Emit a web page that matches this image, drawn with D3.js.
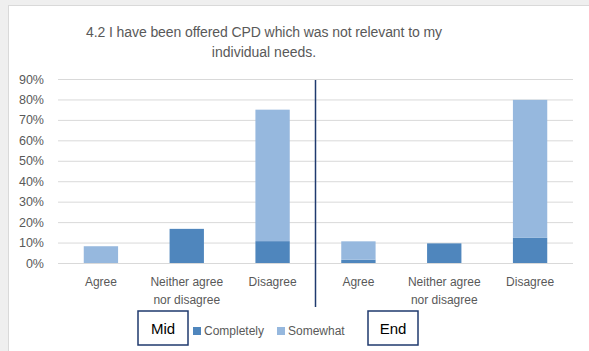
<!DOCTYPE html>
<html>
<head>
<meta charset="utf-8">
<script src="https://cdn.jsdelivr.net/npm/d3@7"></script>
<style>
  html, body { margin: 0; padding: 0; background: #efefef; }
  svg { display: block; font-family: "Liberation Sans", Arial, sans-serif; }
</style>
</head>
<body>
<svg id="chart" width="589" height="351"></svg>
<script>
// Survey responses, mid-point and end-point, split into two shades of agreement
const categories = ["Agree", "Neither agree\nnor disagree", "Disagree", "Agree", "Neither agree\nnor disagree", "Disagree"];
const completely = [0, 16.7, 10.7, 1.6, 9.6, 12.3];
const somewhat   = [8.2, 0, 64.3, 9.0, 0, 67.5];
const seriesNames = ["Completely", "Somewhat"];
const seriesColors = ["#4f86bd", "#96b8de"];
const yTicks = [0, 10, 20, 30, 40, 50, 60, 70, 80, 90];
const groupLabels = ["Mid", "End"];
const titleLines = ["4.2 I have been offered CPD which was not relevant to my", "individual needs."];

const svg = d3.select("#chart");

// chart frame
svg.append("rect")
  .attr("x", 8.5).attr("y", 5.5).attr("width", 600).attr("height", 360)
  .attr("fill", "#ffffff").attr("stroke", "#d9d9d9");

const plot = { left: 58, right: 573, top: 79, bottom: 263 };

const x = d3.scaleBand()
  .domain(d3.range(categories.length))
  .range([plot.left, plot.right])
  .paddingInner(0.6).paddingOuter(0.3);

const y = d3.scaleLinear().domain([0, 90]).range([plot.bottom, plot.top]);

// title
svg.append("g").selectAll("text").data(titleLines).join("text")
  .attr("x", 264).attr("y", (d, i) => 36.5 + i * 20)
  .attr("text-anchor", "middle")
  .attr("font-size", 14).attr("fill", "#595959")
  .attr("textLength", d => d.length > 30 ? 356 : null)
  .text(d => d);

// gridlines and y tick labels
const yAxis = d3.axisLeft(y).tickValues(yTicks).tickSize(-(plot.right - plot.left))
  .tickFormat(d => d + "%");
const gy = svg.append("g").attr("transform", `translate(${plot.left},0)`).call(yAxis);
gy.select(".domain").remove();
gy.selectAll(".tick line").attr("stroke", "#d9d9d9").attr("stroke-width", 1);
gy.selectAll(".tick text").attr("x", -14).attr("fill", "#595959")
  .attr("font-size", 12.5).attr("font-family", "Liberation Sans, Arial, sans-serif");

// stacked bars
const rows = categories.map((c, i) => ({ i, Completely: completely[i], Somewhat: somewhat[i] }));
const stacked = d3.stack().keys(seriesNames)(rows);
svg.append("g").selectAll("g").data(stacked).join("g")
  .attr("fill", (d, i) => seriesColors[i])
  .selectAll("rect").data(d => d).join("rect")
  .attr("x", d => x(d.data.i))
  .attr("width", x.bandwidth())
  .attr("y", d => y(d[1]))
  .attr("height", d => y(d[0]) - y(d[1]));

// x category labels
const gx = svg.append("g");
categories.forEach((c, i) => {
  const t = gx.append("text")
    .attr("x", x(i) + x.bandwidth() / 2).attr("y", 286)
    .attr("text-anchor", "middle").attr("font-size", 12).attr("fill", "#595959");
  c.split("\n").forEach((line, k) => {
    t.append("tspan").attr("x", x(i) + x.bandwidth() / 2).attr("dy", k === 0 ? 0 : 17.5).text(line);
  });
});

// divider between mid and end groups
const divX = x(3) - x.step() * x.paddingInner() / 2;
svg.append("line")
  .attr("x1", divX).attr("x2", divX).attr("y1", 80).attr("y2", 307)
  .attr("stroke", "#1f3a6e").attr("stroke-width", 1.5);

// group label boxes
const boxes = [{ label: groupLabels[0], cx: 163 }, { label: groupLabels[1], cx: 393 }];
boxes.forEach(b => {
  svg.append("rect").attr("x", b.cx - 25).attr("y", 311).attr("width", 50).attr("height", 34)
    .attr("fill", "#ffffff").attr("stroke", "#1f3a6e").attr("stroke-width", 1.5);
  svg.append("text").attr("x", b.cx).attr("y", 333.5).attr("text-anchor", "middle")
    .attr("font-size", 15).attr("fill", "#000000").text(b.label);
});

// legend
const legendX = [193, 277];
seriesNames.forEach((s, i) => {
  svg.append("rect").attr("x", legendX[i]).attr("y", 327).attr("width", 8).attr("height", 8)
    .attr("fill", seriesColors[i]);
  svg.append("text").attr("x", legendX[i] + 11).attr("y", 335)
    .attr("font-size", 12).attr("fill", "#595959").text(s);
});
</script>
</body>
</html>
